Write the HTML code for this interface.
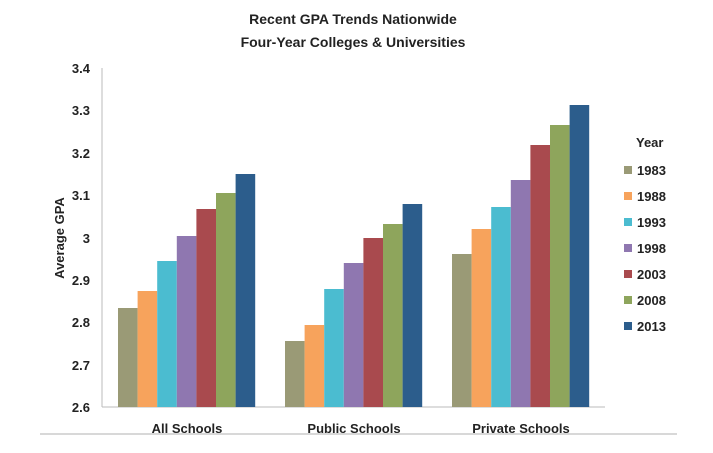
<!DOCTYPE html><html><head><style>body{margin:0;background:#fff}svg{display:block;font-family:"Liberation Sans",sans-serif}</style></head><body>
<svg width="713" height="453" xmlns="http://www.w3.org/2000/svg">
<rect width="713" height="453" fill="#fff"/>
<g font-weight="bold" font-size="14" text-anchor="middle" fill="#222">
<text x="353" y="24">Recent GPA Trends Nationwide</text>
<text x="353" y="47">Four-Year Colleges &amp; Universities</text>
</g>
<line x1="102" y1="68" x2="102" y2="407" stroke="#bbb"/>
<line x1="102" y1="407" x2="605" y2="407" stroke="#bbb"/>
<line x1="40" y1="434" x2="677" y2="434" stroke="#ccc" stroke-width="1.5"/>
<g font-weight="bold" font-size="13" text-anchor="end" fill="#222">
<text x="90" y="73">3.4</text><text x="90" y="115">3.3</text><text x="90" y="158">3.2</text><text x="90" y="200">3.1</text><text x="90" y="243">3</text><text x="90" y="285">2.9</text><text x="90" y="327">2.8</text><text x="90" y="370">2.7</text><text x="90" y="412">2.6</text>
</g>
<text transform="translate(64,238) rotate(-90)" font-weight="bold" font-size="13" text-anchor="middle" fill="#222">Average GPA</text>
<g id="bars"></g>
<g font-weight="bold" font-size="13" text-anchor="middle" fill="#222">
<text x="187" y="433">All Schools</text><text x="354" y="433">Public Schools</text><text x="521" y="433">Private Schools</text>
</g>
<g font-weight="bold" font-size="13" fill="#222">
<text x="636" y="147">Year</text>
<rect x="624" y="166" width="8" height="8" fill="#9a9a76"/><text x="637" y="175">1983</text>
<rect x="624" y="192" width="8" height="8" fill="#f7a35c"/><text x="637" y="201">1988</text>
<rect x="624" y="218" width="8" height="8" fill="#4bbcd0"/><text x="637" y="227">1993</text>
<rect x="624" y="244" width="8" height="8" fill="#8f77b0"/><text x="637" y="253">1998</text>
<rect x="624" y="270" width="8" height="8" fill="#a94a4e"/><text x="637" y="279">2003</text>
<rect x="624" y="296" width="8" height="8" fill="#8ea55c"/><text x="637" y="305">2008</text>
<rect x="624" y="322" width="8" height="8" fill="#2c5d8c"/><text x="637" y="331">2013</text>
</g>
<!-- All Schools -->
<rect x="118" y="308" width="19.6" height="99" fill="#9a9a76"/>
<rect x="137.6" y="291" width="19.6" height="116" fill="#f7a35c"/>
<rect x="157.2" y="261" width="19.6" height="146" fill="#4bbcd0"/>
<rect x="176.8" y="236" width="19.6" height="171" fill="#8f77b0"/>
<rect x="196.4" y="209" width="19.6" height="198" fill="#a94a4e"/>
<rect x="216" y="193" width="19.6" height="214" fill="#8ea55c"/>
<rect x="235.6" y="174" width="19.6" height="233" fill="#2c5d8c"/>
<!-- Public -->
<rect x="285" y="341" width="19.6" height="66" fill="#9a9a76"/>
<rect x="304.6" y="325" width="19.6" height="82" fill="#f7a35c"/>
<rect x="324.2" y="289" width="19.6" height="118" fill="#4bbcd0"/>
<rect x="343.8" y="263" width="19.6" height="144" fill="#8f77b0"/>
<rect x="363.4" y="238" width="19.6" height="169" fill="#a94a4e"/>
<rect x="383" y="224" width="19.6" height="183" fill="#8ea55c"/>
<rect x="402.6" y="204" width="19.6" height="203" fill="#2c5d8c"/>
<!-- Private -->
<rect x="452" y="254" width="19.6" height="153" fill="#9a9a76"/>
<rect x="471.6" y="229" width="19.6" height="178" fill="#f7a35c"/>
<rect x="491.2" y="207" width="19.6" height="200" fill="#4bbcd0"/>
<rect x="510.8" y="180" width="19.6" height="227" fill="#8f77b0"/>
<rect x="530.4" y="145" width="19.6" height="262" fill="#a94a4e"/>
<rect x="550" y="125" width="19.6" height="282" fill="#8ea55c"/>
<rect x="569.6" y="105" width="19.6" height="302" fill="#2c5d8c"/>
</svg>
</body></html>
